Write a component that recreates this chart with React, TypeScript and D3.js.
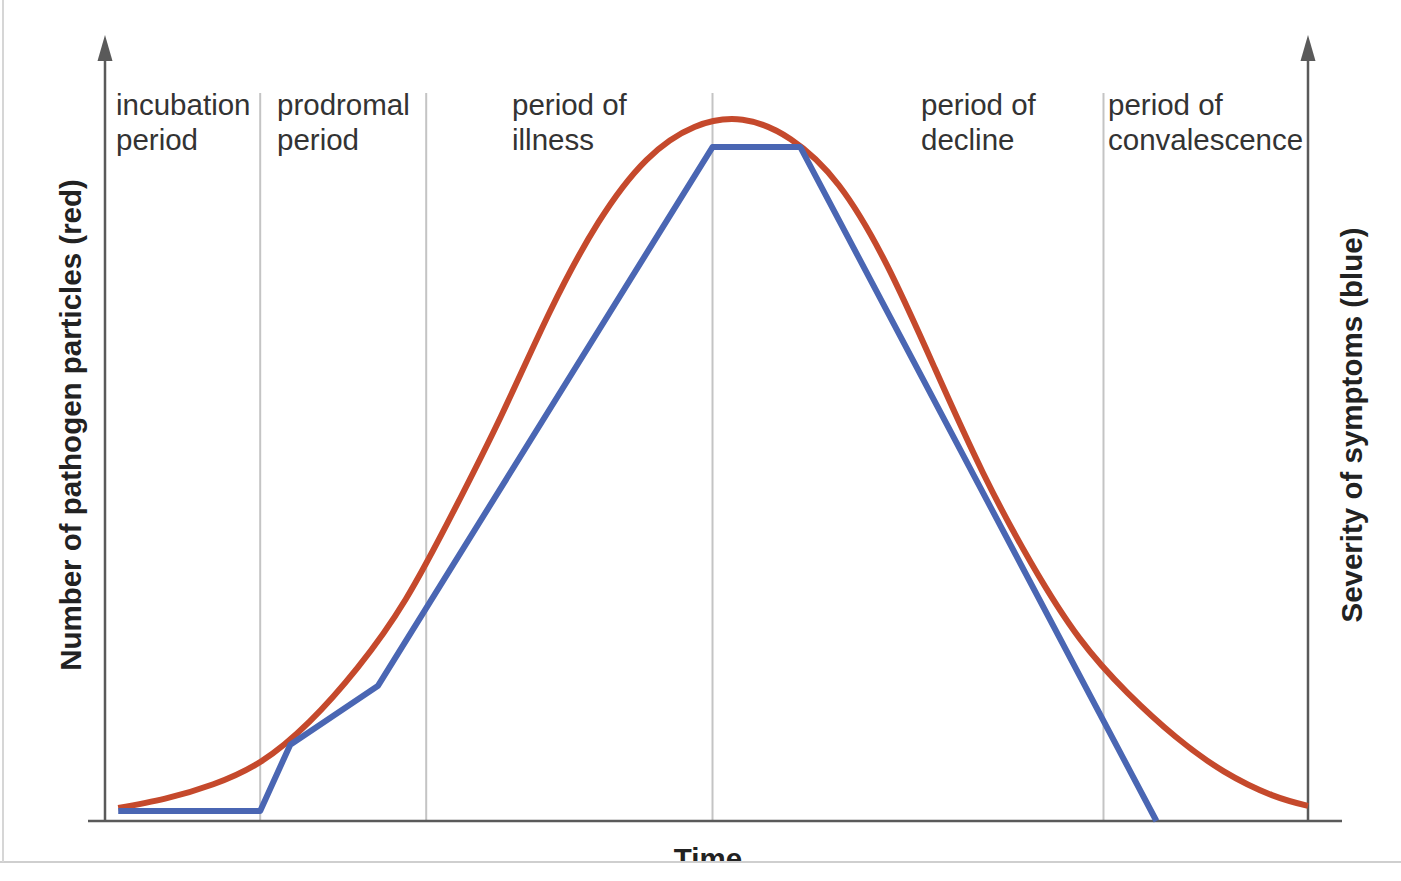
import React, { useEffect, useRef } from "react";
import * as d3 from "d3";

// time runs 0..100 along the x axis, both series on a 0..100 scale
const phaseBoundaries = [12.9, 26.7, 50.5, 83.0];
const phaseLabels = [
  ["incubation", "period"],
  ["prodromal", "period"],
  ["period of", "illness"],
  ["period of", "decline"],
  ["period of", "convalescence"],
];

const pathogenTime = [1.1, 5, 9, 13, 17, 21, 25, 29, 33, 37, 41, 45, 49, 53, 57, 61, 65, 69, 73, 77, 81, 85, 89, 93, 97, 100];
const pathogenCount = [1.8, 3.1, 5.1, 8.3, 13.8, 21.3, 30.8, 43.1, 56.5, 70.8, 83.1, 91.8, 96.4, 97.4, 94.7, 88.3, 77.2, 62.8, 48.3, 35.8, 25.4, 17.8, 11.7, 6.9, 3.6, 2.1];

const symptomTime = [1.1, 12.9, 15.4, 22.7, 50.5, 57.8, 87.4];
const symptomSeverity = [1.4, 1.4, 10.6, 18.8, 93.6, 93.6, 0];

const W = 1401;
const H = 881;
const FONT = "'Liberation Sans', Arial, Helvetica, sans-serif";

export default function App() {
  const ref = useRef<SVGSVGElement>(null);

  useEffect(() => {
    document.body.style.margin = "0";
    const svg = d3.select(ref.current);
    svg.selectAll("*").remove();

    const x = d3.scaleLinear().domain([0, 100]).range([105, 1308]);
    const y = d3.scaleLinear().domain([0, 100]).range([821, 101]);
    const axisColor = "#5a5a5a";

    svg.append("rect").attr("width", W).attr("height", H).attr("fill", "#fff");

    // phase dividers
    svg
      .selectAll("line.divider")
      .data(phaseBoundaries)
      .enter()
      .append("line")
      .attr("class", "divider")
      .attr("x1", (d) => x(d))
      .attr("x2", (d) => x(d))
      .attr("y1", 93)
      .attr("y2", y(0))
      .attr("stroke", "#c4c4c4")
      .attr("stroke-width", 2);

    // phase labels
    const labelX = [116, 277, 512, 921, 1108];
    const labels = svg
      .selectAll("text.phase")
      .data(phaseLabels)
      .enter()
      .append("text")
      .attr("class", "phase")
      .attr("x", (_, i) => labelX[i])
      .attr("y", 115)
      .style("font-family", FONT)
      .style("font-size", "29.5px")
      .style("fill", "#333");
    labels
      .selectAll("tspan")
      .data((d) => d)
      .enter()
      .append("tspan")
      .attr("x", function () {
        return (this.parentNode as SVGTextElement).getAttribute("x");
      })
      .attr("dy", (_, i) => (i === 0 ? 0 : 35))
      .text((d) => d);

    // axes
    svg
      .append("line")
      .attr("x1", 88)
      .attr("x2", 1342)
      .attr("y1", y(0))
      .attr("y2", y(0))
      .attr("stroke", axisColor)
      .attr("stroke-width", 2.5);

    [x(0), x(100)].forEach((ax) => {
      svg
        .append("line")
        .attr("x1", ax)
        .attr("x2", ax)
        .attr("y1", y(0))
        .attr("y2", 58)
        .attr("stroke", axisColor)
        .attr("stroke-width", 2.5);
      svg
        .append("path")
        .attr("d", `M${ax},35 L${ax - 7.5},61 L${ax + 7.5},61 Z`)
        .attr("fill", axisColor);
    });

    // pathogen particles
    const red = d3
      .line<number>()
      .x((_, i) => x(pathogenTime[i]))
      .y((d) => y(d))
      .curve(d3.curveNatural);
    svg
      .append("path")
      .attr("d", red(pathogenCount))
      .attr("fill", "none")
      .attr("stroke", "#c5492c")
      .attr("stroke-width", 6);

    // symptom severity
    const blue = d3
      .line<number>()
      .x((_, i) => x(symptomTime[i]))
      .y((d) => y(d));
    svg
      .append("path")
      .attr("d", blue(symptomSeverity))
      .attr("fill", "none")
      .attr("stroke", "#4a66b3")
      .attr("stroke-width", 6)
      .attr("stroke-linejoin", "round");

    // axis titles
    const title = (t: string, tr: string, xx = 0, yy = 0) =>
      svg
        .append("text")
        .attr("transform", tr)
        .attr("x", xx)
        .attr("y", yy)
        .attr("text-anchor", "middle")
        .style("font-family", FONT)
        .style("font-weight", "bold")
        .style("font-size", "29.5px")
        .style("fill", "#222")
        .text(t);

    title("Number of pathogen particles (red)", "translate(81, 425) rotate(-90)");
    title("Severity of symptoms (blue)", "translate(1362, 425) rotate(-90)");
    title("Time", "", 708, 869);

    // image frame: cropped at the bottom
    svg.append("rect").attr("x", 0).attr("y", 862).attr("width", W).attr("height", H - 862).attr("fill", "#fff");
    svg.append("line").attr("x1", 0).attr("x2", W).attr("y1", 862).attr("y2", 862).attr("stroke", "#cfcfcf").attr("stroke-width", 2);
    svg.append("line").attr("x1", 3).attr("x2", 3).attr("y1", 0).attr("y2", 862).attr("stroke", "#d6d6d6").attr("stroke-width", 2);
  }, []);

  return (
    <svg
      ref={ref}
      width={W}
      height={H}
      style={{ display: "block", position: "absolute", left: 0, top: 0 }}
    ></svg>
  );
}
